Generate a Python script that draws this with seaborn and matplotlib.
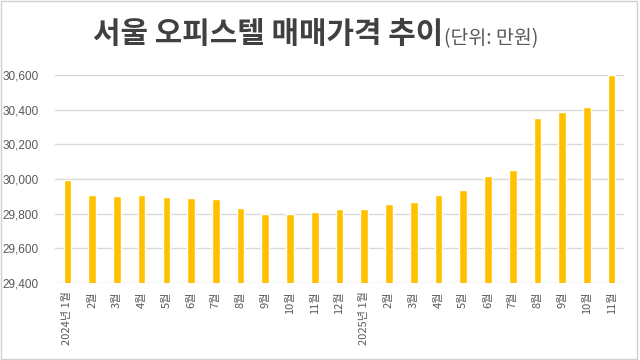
import matplotlib
matplotlib.use("Agg")
import matplotlib.pyplot as plt
import pandas as pd
import seaborn as sns
from matplotlib.patches import Rectangle

months = ["2024년 1월", "2월", "3월", "4월", "5월", "6월", "7월", "8월", "9월", "10월",
          "11월", "12월", "2025년 1월", "2월", "3월", "4월", "5월", "6월", "7월", "8월",
          "9월", "10월", "11월"]
prices = [29995, 29909, 29904, 29909, 29896, 29890, 29884, 29835, 29800, 29796,
          29812, 29824, 29824, 29853, 29865, 29906, 29935, 30014, 30049, 30352,
          30387, 30412, 30597]
yticks = [29400, 29600, 29800, 30000, 30200, 30400, 30600]

# unique keys so repeated month names stay separate bars
df = pd.DataFrame({"key": [f"{i}" for i in range(len(months))], "price": prices})

sns.set_style("white")
plt.rcParams["font.family"] = ["Noto Sans CJK KR", "DejaVu Sans"]

fig = plt.figure(figsize=(6.4, 3.6), dpi=100)
ax = fig.add_axes([0.086, 0.214, 0.889, 0.578])

sns.barplot(data=df, x="key", y="price", color="#FFC000", width=0.31,
            saturation=1, ax=ax)

ax.set_ylim(29400, 30600)
ax.set_xlim(-0.5, len(months) - 0.5)
ax.set_yticks(yticks)
ax.set_yticklabels([f"{v:,}" for v in yticks], fontfamily="Liberation Sans",
                   fontsize=8.5, color="#595959")
ax.set_xticks(range(len(months)))
ax.set_xticklabels(months, rotation=90, fontsize=8, color="#595959", va="top")
ax.tick_params(axis="both", length=0)
ax.tick_params(axis="x", pad=6)
ax.tick_params(axis="y", pad=12)
ax.set_xlabel("")
ax.set_ylabel("")
ax.yaxis.grid(True, color="#d9d9d9", linewidth=1)
ax.set_axisbelow(True)
for s in ax.spines.values():
    s.set_visible(False)

fig.text(0.692, 0.905, "서울 오피스텔 매매가격 추이", ha="right", va="center",
         fontsize=21.5, fontweight="bold", color="#404040")
fig.text(0.693, 0.893, "(단위: 만원)", ha="left", va="center",
         fontsize=14, color="#595959")

fig.patches.append(Rectangle((0.002, 0.003), 0.994, 0.994, transform=fig.transFigure,
                             fill=False, edgecolor="#d0d0d0", linewidth=1))

fig.savefig("out.png", dpi=100)
